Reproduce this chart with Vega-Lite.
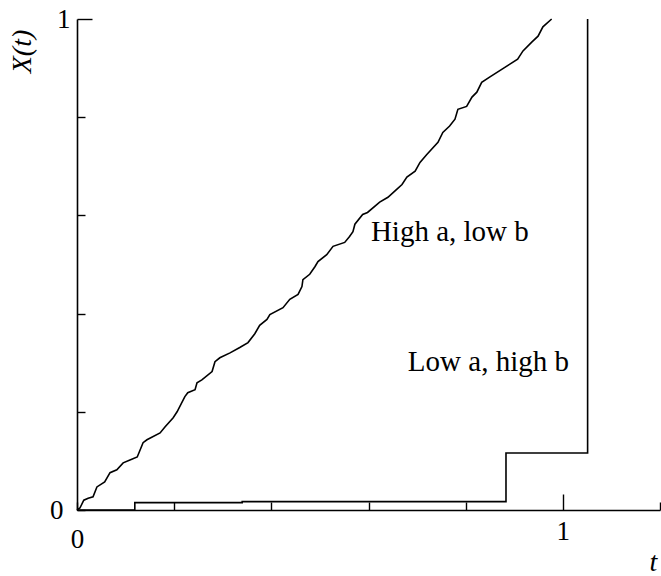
{
  "$schema": "https://vega.github.io/schema/vega-lite/v6.json",
  "width": 583,
  "height": 491,
  "autosize": "none",
  "padding": {"left": 77, "top": 19, "right": 1, "bottom": 66},
  "background": "white",
  "config": {
    "view": {"stroke": null},
    "font": "Liberation Serif",
    "axis": {
      "domainColor": "black",
      "domainWidth": 1.6,
      "tickColor": "black",
      "tickWidth": 1.4,
      "grid": false,
      "labelFont": "Liberation Serif",
      "labelFontSize": 27,
      "labelColor": "black",
      "titleFont": "Liberation Serif",
      "titleFontSize": 28,
      "titleFontStyle": "italic",
      "titleFontWeight": "normal",
      "titleColor": "black"
    }
  },
  "datasets": {
    "highA": [
      {"i": 0, "t": 0.0, "X": 0.0},
      {"i": 1, "t": 0.006, "X": 0.004},
      {"i": 2, "t": 0.014, "X": 0.02},
      {"i": 3, "t": 0.023, "X": 0.024},
      {"i": 4, "t": 0.033, "X": 0.027},
      {"i": 5, "t": 0.041, "X": 0.047},
      {"i": 6, "t": 0.057, "X": 0.057},
      {"i": 7, "t": 0.068, "X": 0.076},
      {"i": 8, "t": 0.082, "X": 0.082},
      {"i": 9, "t": 0.095, "X": 0.096},
      {"i": 10, "t": 0.109, "X": 0.102},
      {"i": 11, "t": 0.124, "X": 0.108},
      {"i": 12, "t": 0.136, "X": 0.137},
      {"i": 13, "t": 0.144, "X": 0.143},
      {"i": 14, "t": 0.171, "X": 0.157},
      {"i": 15, "t": 0.181, "X": 0.169},
      {"i": 16, "t": 0.198, "X": 0.188},
      {"i": 17, "t": 0.206, "X": 0.2},
      {"i": 18, "t": 0.222, "X": 0.231},
      {"i": 19, "t": 0.228, "X": 0.239},
      {"i": 20, "t": 0.243, "X": 0.245},
      {"i": 21, "t": 0.247, "X": 0.259},
      {"i": 22, "t": 0.257, "X": 0.265},
      {"i": 23, "t": 0.278, "X": 0.282},
      {"i": 24, "t": 0.284, "X": 0.302},
      {"i": 25, "t": 0.294, "X": 0.31},
      {"i": 26, "t": 0.315, "X": 0.32},
      {"i": 27, "t": 0.335, "X": 0.331},
      {"i": 28, "t": 0.352, "X": 0.341},
      {"i": 29, "t": 0.366, "X": 0.359},
      {"i": 30, "t": 0.376, "X": 0.376},
      {"i": 31, "t": 0.391, "X": 0.388},
      {"i": 32, "t": 0.397, "X": 0.398},
      {"i": 33, "t": 0.424, "X": 0.412},
      {"i": 34, "t": 0.438, "X": 0.429},
      {"i": 35, "t": 0.455, "X": 0.439},
      {"i": 36, "t": 0.463, "X": 0.455},
      {"i": 37, "t": 0.465, "X": 0.469},
      {"i": 38, "t": 0.479, "X": 0.48},
      {"i": 39, "t": 0.49, "X": 0.496},
      {"i": 40, "t": 0.496, "X": 0.506},
      {"i": 41, "t": 0.514, "X": 0.52},
      {"i": 42, "t": 0.527, "X": 0.537},
      {"i": 43, "t": 0.551, "X": 0.545},
      {"i": 44, "t": 0.561, "X": 0.557},
      {"i": 45, "t": 0.568, "X": 0.567},
      {"i": 46, "t": 0.572, "X": 0.582},
      {"i": 47, "t": 0.588, "X": 0.602},
      {"i": 48, "t": 0.598, "X": 0.606},
      {"i": 49, "t": 0.623, "X": 0.627},
      {"i": 50, "t": 0.64, "X": 0.637},
      {"i": 51, "t": 0.658, "X": 0.653},
      {"i": 52, "t": 0.669, "X": 0.663},
      {"i": 53, "t": 0.679, "X": 0.678},
      {"i": 54, "t": 0.696, "X": 0.69},
      {"i": 55, "t": 0.706, "X": 0.708},
      {"i": 56, "t": 0.72, "X": 0.724},
      {"i": 57, "t": 0.743, "X": 0.749},
      {"i": 58, "t": 0.753, "X": 0.769},
      {"i": 59, "t": 0.767, "X": 0.782},
      {"i": 60, "t": 0.778, "X": 0.796},
      {"i": 61, "t": 0.784, "X": 0.816},
      {"i": 62, "t": 0.802, "X": 0.822},
      {"i": 63, "t": 0.813, "X": 0.841},
      {"i": 64, "t": 0.823, "X": 0.851},
      {"i": 65, "t": 0.833, "X": 0.871},
      {"i": 66, "t": 0.85, "X": 0.882},
      {"i": 67, "t": 0.875, "X": 0.898},
      {"i": 68, "t": 0.891, "X": 0.908},
      {"i": 69, "t": 0.907, "X": 0.918},
      {"i": 70, "t": 0.918, "X": 0.935},
      {"i": 71, "t": 0.936, "X": 0.953},
      {"i": 72, "t": 0.949, "X": 0.965},
      {"i": 73, "t": 0.959, "X": 0.984},
      {"i": 74, "t": 0.977, "X": 1.0}
    ],
    "lowA": [
      {"i": 0, "t": 0.0, "X": 0.0},
      {"i": 1, "t": 0.119, "X": 0.0},
      {"i": 2, "t": 0.119, "X": 0.015},
      {"i": 3, "t": 0.34, "X": 0.015},
      {"i": 4, "t": 0.34, "X": 0.017},
      {"i": 5, "t": 0.883, "X": 0.017},
      {"i": 6, "t": 0.883, "X": 0.116},
      {"i": 7, "t": 1.051, "X": 0.116},
      {"i": 8, "t": 1.051, "X": 1.0}
    ],
    "labels": [
      {"t": 0.605, "X": 0.566, "text": "High a, low b"},
      {"t": 0.681, "X": 0.301, "text": "Low a, high b"}
    ]
  },
  "layer": [
    {
      "data": {"name": "highA"},
      "mark": {"type": "line", "color": "black", "strokeWidth": 1.6},
      "encoding": {
        "x": {
          "field": "t",
          "type": "quantitative",
          "scale": {"domain": [0, 1.2], "nice": false, "zero": false},
          "axis": {
            "values": [0, 0.2, 0.4, 0.6, 0.8, 1, 1.2],
            "labelExpr": "datum.value == 0 ? '0' : (datum.value == 1 ? '1' : '')",
            "tickSize": {"condition": {"test": "datum.value == 1", "value": -16}, "value": -8},
            "labelPadding": 24,
            "labelFlush": false,
            "labelOverlap": false,
            "title": "t",
            "titleX": 576,
            "titleY": 52,
            "titleAlign": "center",
            "titleBaseline": "middle"
          }
        },
        "y": {
          "field": "X",
          "type": "quantitative",
          "scale": {"domain": [0, 1], "nice": false},
          "axis": {
            "values": [0, 0.2, 0.4, 0.6, 0.8, 1],
            "labelExpr": "datum.value == 0 ? '0' : (datum.value == 1 ? '1' : '')",
            "tickSize": {"condition": {"test": "datum.value == 1", "value": -15}, "value": -8},
            "labelPadding": 22,
            "labelFlush": false,
            "labelOverlap": false,
            "title": "X(t)",
            "titleAngle": 270,
            "titleX": -55,
            "titleY": 32,
            "titleAlign": "center",
            "titleBaseline": "middle"
          }
        },
        "order": {"field": "i", "type": "quantitative"}
      }
    },
    {
      "data": {"name": "lowA"},
      "mark": {"type": "line", "color": "black", "strokeWidth": 1.6},
      "encoding": {
        "x": {"field": "t", "type": "quantitative"},
        "y": {"field": "X", "type": "quantitative"},
        "order": {"field": "i", "type": "quantitative"}
      }
    },
    {
      "data": {"name": "labels"},
      "mark": {"type": "text", "align": "left", "baseline": "middle", "fontSize": 29, "font": "Liberation Serif", "color": "black"},
      "encoding": {
        "x": {"field": "t", "type": "quantitative"},
        "y": {"field": "X", "type": "quantitative"},
        "text": {"field": "text"}
      }
    }
  ]
}
